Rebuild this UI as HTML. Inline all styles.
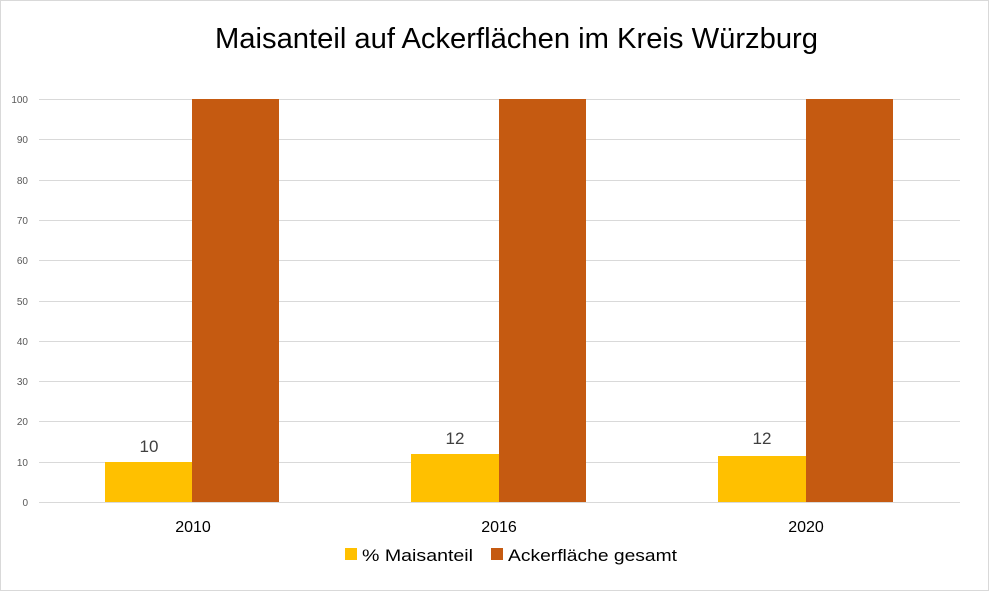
<!DOCTYPE html>
<html><head><meta charset="utf-8"><style>
html,body{margin:0;padding:0;background:#fff}
svg{display:block}
text{font-family:"Liberation Sans",sans-serif}
</style></head><body>
<svg width="989" height="591" viewBox="0 0 989 591">
<rect x="0.5" y="0.5" width="988" height="590" fill="#fff" stroke="#d9d9d9"/>
<text x="215" y="48" font-size="29" fill="#000" textLength="603" lengthAdjust="spacingAndGlyphs">Maisanteil auf Ackerflächen im Kreis Würzburg</text>
<g stroke="#d9d9d9" stroke-width="1">
<line x1="39" x2="960" y1="99.5" y2="99.5"/>
<line x1="39" x2="960" y1="139.5" y2="139.5"/>
<line x1="39" x2="960" y1="180.5" y2="180.5"/>
<line x1="39" x2="960" y1="220.5" y2="220.5"/>
<line x1="39" x2="960" y1="260.5" y2="260.5"/>
<line x1="39" x2="960" y1="301.5" y2="301.5"/>
<line x1="39" x2="960" y1="341.5" y2="341.5"/>
<line x1="39" x2="960" y1="381.5" y2="381.5"/>
<line x1="39" x2="960" y1="421.5" y2="421.5"/>
<line x1="39" x2="960" y1="462.5" y2="462.5"/>
<line x1="39" x2="960" y1="502.5" y2="502.5"/>
</g>
<g font-size="10" fill="#595959" text-anchor="end">
<text x="28" y="103">100</text><text x="28" y="143">90</text><text x="28" y="184">80</text>
<text x="28" y="224">70</text><text x="28" y="264">60</text><text x="28" y="305">50</text>
<text x="28" y="345">40</text><text x="28" y="385">30</text><text x="28" y="425">20</text>
<text x="28" y="466">10</text><text x="28" y="506">0</text>
</g>
<rect x="105" y="462" width="87" height="40" fill="#ffc000"/>
<rect x="192" y="99" width="87" height="403" fill="#c55a11"/>
<rect x="411" y="454" width="88" height="48" fill="#ffc000"/>
<rect x="499" y="99" width="87" height="403" fill="#c55a11"/>
<rect x="718" y="456" width="88" height="46" fill="#ffc000"/>
<rect x="806" y="99" width="87" height="403" fill="#c55a11"/>
<g font-size="17" fill="#404040" text-anchor="middle">
<text x="149" y="452">10</text><text x="455" y="444">12</text><text x="762" y="444">12</text>
</g>
<g font-size="16" fill="#000" text-anchor="middle">
<text x="193" y="532">2010</text><text x="499" y="532">2016</text><text x="806" y="532">2020</text>
</g>
<rect x="345" y="548" width="12" height="12" fill="#ffc000"/>
<text x="362" y="561" font-size="17" fill="#000" textLength="111" lengthAdjust="spacingAndGlyphs">% Maisanteil</text>
<rect x="491" y="548" width="12" height="12" fill="#c55a11"/>
<text x="508" y="561" font-size="17" fill="#000" textLength="169" lengthAdjust="spacingAndGlyphs">Ackerfläche gesamt</text>
</svg>
</body></html>
